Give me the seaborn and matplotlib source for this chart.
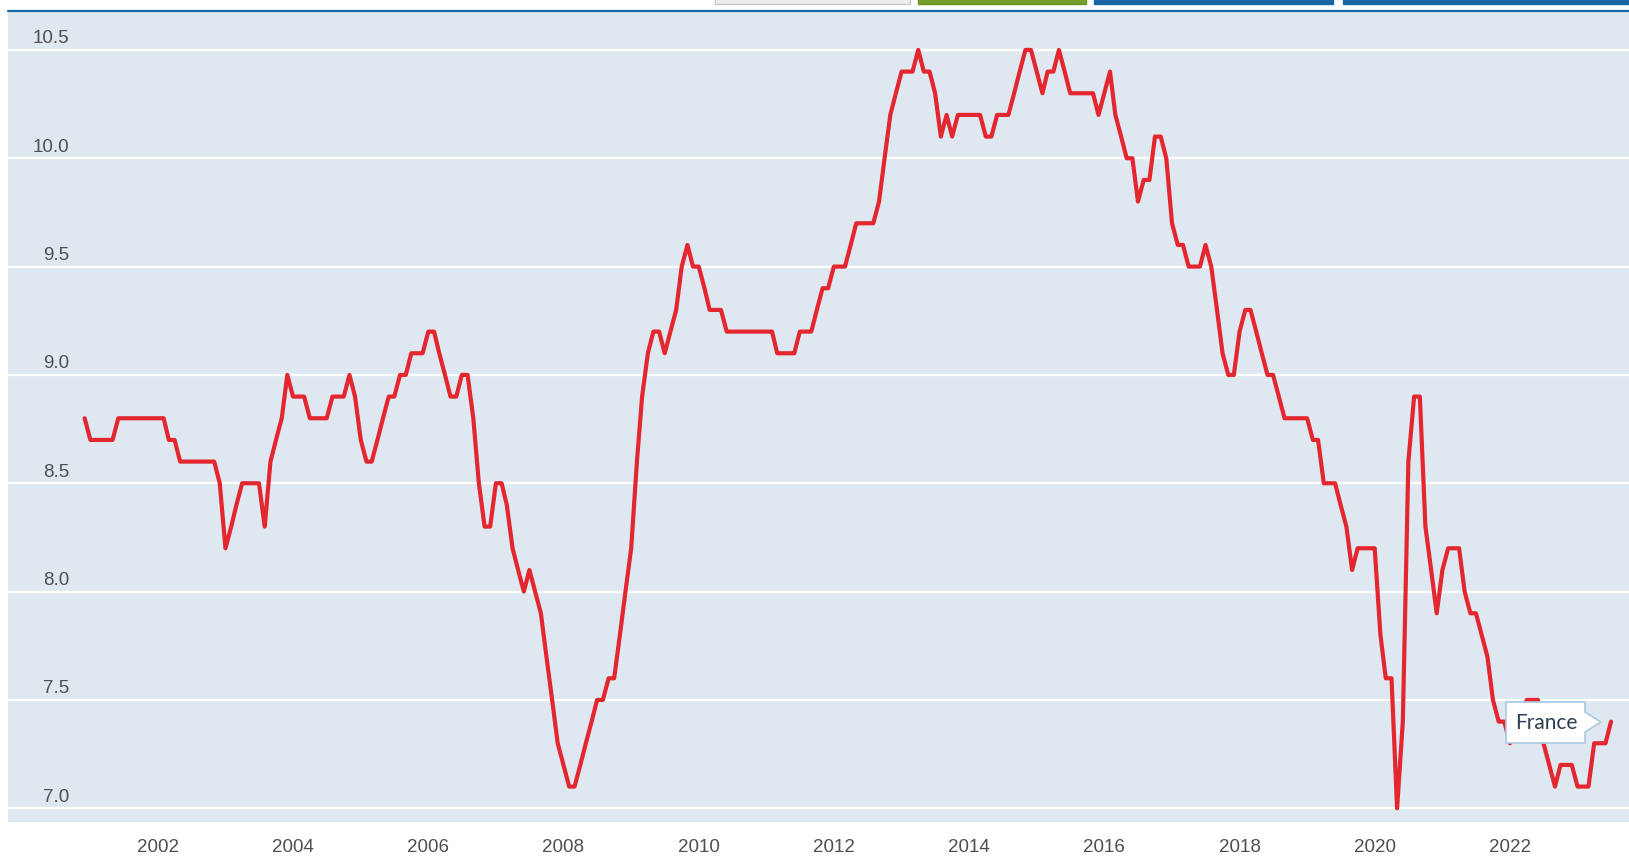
import pandas as pd
import matplotlib
matplotlib.use("Agg")
import matplotlib.pyplot as plt
import matplotlib.transforms as mtransforms
from matplotlib.patches import Polygon, Rectangle
from matplotlib.lines import Line2D
import seaborn as sns

# Unemployment rate, France (%), monthly from Dec 2000 to Jul 2023
start_month = "2000-12-01"
dec_2000 = [8.8]
rate_2001 = [8.7, 8.7, 8.7, 8.7, 8.7, 8.8, 8.8, 8.8, 8.8, 8.8, 8.8, 8.8]
rate_2002 = [8.8, 8.8, 8.7, 8.7, 8.6, 8.6, 8.6, 8.6, 8.6, 8.6, 8.6, 8.5]
rate_2003 = [8.2, 8.3, 8.4, 8.5, 8.5, 8.5, 8.5, 8.3, 8.6, 8.7, 8.8, 9.0]
rate_2004 = [8.9, 8.9, 8.9, 8.8, 8.8, 8.8, 8.8, 8.9, 8.9, 8.9, 9.0, 8.9]
rate_2005 = [8.7, 8.6, 8.6, 8.7, 8.8, 8.9, 8.9, 9.0, 9.0, 9.1, 9.1, 9.1]
rate_2006 = [9.2, 9.2, 9.1, 9.0, 8.9, 8.9, 9.0, 9.0, 8.8, 8.5, 8.3, 8.3]
rate_2007 = [8.5, 8.5, 8.4, 8.2, 8.1, 8.0, 8.1, 8.0, 7.9, 7.7, 7.5, 7.3]
rate_2008 = [7.2, 7.1, 7.1, 7.2, 7.3, 7.4, 7.5, 7.5, 7.6, 7.6, 7.8, 8.0]
rate_2009 = [8.2, 8.6, 8.9, 9.1, 9.2, 9.2, 9.1, 9.2, 9.3, 9.5, 9.6, 9.5]
rate_2010 = [9.5, 9.4, 9.3, 9.3, 9.3, 9.2, 9.2, 9.2, 9.2, 9.2, 9.2, 9.2]
rate_2011 = [9.2, 9.2, 9.1, 9.1, 9.1, 9.1, 9.2, 9.2, 9.2, 9.3, 9.4, 9.4]
rate_2012 = [9.5, 9.5, 9.5, 9.6, 9.7, 9.7, 9.7, 9.7, 9.8, 10.0, 10.2, 10.3]
rate_2013 = [10.4, 10.4, 10.4, 10.5, 10.4, 10.4, 10.3, 10.1, 10.2, 10.1, 10.2, 10.2]
rate_2014 = [10.2, 10.2, 10.2, 10.1, 10.1, 10.2, 10.2, 10.2, 10.3, 10.4, 10.5, 10.5]
rate_2015 = [10.4, 10.3, 10.4, 10.4, 10.5, 10.4, 10.3, 10.3, 10.3, 10.3, 10.3, 10.2]
rate_2016 = [10.3, 10.4, 10.2, 10.1, 10.0, 10.0, 9.8, 9.9, 9.9, 10.1, 10.1, 10.0]
rate_2017 = [9.7, 9.6, 9.6, 9.5, 9.5, 9.5, 9.6, 9.5, 9.3, 9.1, 9.0, 9.0]
rate_2018 = [9.2, 9.3, 9.3, 9.2, 9.1, 9.0, 9.0, 8.9, 8.8, 8.8, 8.8, 8.8]
rate_2019 = [8.8, 8.7, 8.7, 8.5, 8.5, 8.5, 8.4, 8.3, 8.1, 8.2, 8.2, 8.2]
rate_2020 = [8.2, 7.8, 7.6, 7.6, 7.0, 7.4, 8.6, 8.9, 8.9, 8.3, 8.1, 7.9]
rate_2021 = [8.1, 8.2, 8.2, 8.2, 8.0, 7.9, 7.9, 7.8, 7.7, 7.5, 7.4, 7.4]
rate_2022 = [7.3, 7.4, 7.4, 7.5, 7.5, 7.5, 7.3, 7.2, 7.1, 7.2, 7.2, 7.2]
rate_2023 = [7.1, 7.1, 7.1, 7.3, 7.3, 7.3, 7.4]

ytick_values = [7.0, 7.5, 8.0, 8.5, 9.0, 9.5, 10.0, 10.5]
ytick_labels = ["7.0", "7.5", "8.0", "8.5", "9.0", "9.5", "10.0", "10.5"]
xtick_years = [2002, 2004, 2006, 2008, 2010, 2012, 2014, 2016, 2018, 2020, 2022]
series_name = "France"

rates = (dec_2000 + rate_2001 + rate_2002 + rate_2003 + rate_2004 + rate_2005
         + rate_2006 + rate_2007 + rate_2008 + rate_2009 + rate_2010 + rate_2011
         + rate_2012 + rate_2013 + rate_2014 + rate_2015 + rate_2016 + rate_2017
         + rate_2018 + rate_2019 + rate_2020 + rate_2021 + rate_2022 + rate_2023)
df = pd.DataFrame({
    "date": pd.date_range(start_month, periods=len(rates), freq="MS"),
    "rate": rates,
})

# colours
bg = "#dfe8f1"
red = "#e4262e"
label_grey = "#4f4f4f"
oecd_blue = "#1768a4"

sns.set_style("white")
plt.rcParams["font.family"] = ["Liberation Sans", "DejaVu Sans"]

W, H = 1629, 858
fig = plt.figure(figsize=(W / 100, H / 100), dpi=100)
fig.patch.set_facecolor("white")

# plot area in pixels: left 8, top 12, bottom 821.7
ax = fig.add_axes([8 / W, (H - 821.7) / H, 1 - 8 / W, (821.7 - 12) / H])
ax.set_facecolor(bg)

sns.lineplot(data=df, x="date", y="rate", color=red, linewidth=3, ax=ax, zorder=3)

ax.set_xlim(pd.Timestamp("1999-10-14"), pd.Timestamp("2023-10-06"))
ax.set_ylim(6.938, 10.675)

# horizontal white grid
ax.set_yticks(ytick_values)
ax.set_yticklabels([])
ax.tick_params(axis="y", length=0)
ax.yaxis.grid(True, color="white", linewidth=1.6)
ax.xaxis.grid(False)
ax.set_axisbelow(True)

# y labels sit above their grid lines, inside the plot
lift = mtransforms.offset_copy(ax.get_yaxis_transform(), fig=fig, x=0, y=8, units="points")
for v, lab in zip(ytick_values, ytick_labels):
    ax.text(0.038, v, lab, transform=lift, ha="right", va="center",
            fontsize=13.5, color=label_grey)

ax.set_xticks([pd.Timestamp(f"{y}-01-01") for y in xtick_years])
ax.set_xticklabels([str(y) for y in xtick_years])
ax.tick_params(axis="x", direction="in", length=6.8, width=1.6, color="white",
               pad=12.5, labelsize=13.5, labelcolor=label_grey)

ax.set_xlabel("")
ax.set_ylabel("")
for s in ax.spines.values():
    s.set_visible(False)

# blue rule on top of the chart
fig.add_artist(Line2D([8 / W, 1], [1 - 11 / H, 1 - 11 / H], transform=fig.transFigure,
                      color=oecd_blue, linewidth=1.6))

# cut-off buttons at the very top
buttons = [(715, 910, "#ececec", "#c9c9c9"), (918, 1086, "#76a02c", "#6b9427"),
           (1094, 1333, oecd_blue, oecd_blue), (1343, 1640, oecd_blue, oecd_blue)]
for x0, x1, fc, ec in buttons:
    fig.add_artist(Rectangle((x0 / W, 1 - 3.5 / H), (x1 - x0) / W, 10 / H,
                             transform=fig.transFigure, facecolor=fc, edgecolor=ec,
                             linewidth=1))

# tooltip box with arrow pointing right
tip = [(1506, 702), (1585, 702), (1585, 712), (1601, 722), (1585, 732),
       (1585, 743), (1506, 743)]
fig.add_artist(Polygon([(x / W, 1 - y / H) for x, y in tip], closed=True,
                       transform=fig.transFigure, facecolor="white",
                       edgecolor="#a9c9e0", linewidth=1.2, zorder=5))
fig.text(1546 / W, 1 - 723 / H, series_name, ha="center", va="center",
         fontsize=15, color="#2c3e50", family=["Lato", "DejaVu Sans"], zorder=6)

fig.savefig("out.png", dpi=100)
